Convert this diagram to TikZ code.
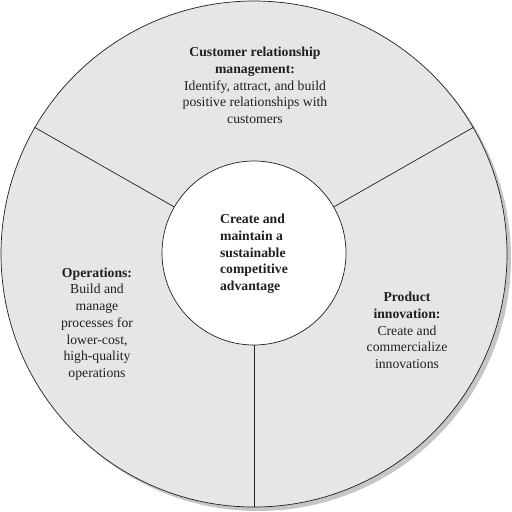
\documentclass[tikz,border=0pt]{standalone}
\usepackage{fontspec}
\setmainfont{Liberation Serif}
\definecolor{ringfill}{HTML}{E6E6E6}
\definecolor{shadowgray}{HTML}{C6C6C6}
\definecolor{ink}{HTML}{231F20}
\begin{document}
\begin{tikzpicture}[x=1pt,y=-1pt,
  ring/.style={circle, inner sep=0pt, draw=ink, line width=0.7pt},
  divider/.style={draw=ink, line width=0.7pt},
  label/.style={align=center, text=ink, font=\fontsize{13.7}{16.7}\selectfont, inner sep=0pt},
  hub/.style={align=left, text=ink, font=\fontsize{13.7}{16.7}\selectfont\bfseries, inner sep=0pt}]
\useasboundingbox (0,0) rectangle (512,512);
\fill[white] (0,0) rectangle (512,512);
\node[circle, inner sep=0pt, minimum size=506, fill=shadowgray] (shadow) at (258,258) {};
\node[ring, minimum size=506, fill=ringfill] (outer) at (254,254) {};
\node[ring, minimum size=184, fill=white] (inner) at (254,253) {};
\draw[divider] (inner.150) -- (outer.150);
\draw[divider] (inner.30) -- (outer.30);
\draw[divider] (inner.270) -- (outer.270);
\node[label] (crm) at (255,85.5) {\textbf{Customer relationship}\\ \textbf{management:}\\ Identify, attract, and build\\ positive relationships with\\ customers};
\node[hub] (core) at (254,254) {Create and\\ maintain a\\ sustainable\\ competitive\\ advantage};
\node[label] (ops) at (97,324) {\textbf{Operations:}\\ Build and\\ manage\\ processes for\\ lower-cost,\\ high-quality\\ operations};
\node[label] (prod) at (407,330.5) {\textbf{Product}\\ \textbf{innovation:}\\ Create and\\ commercialize\\ innovations};
\end{tikzpicture}
\end{document}
